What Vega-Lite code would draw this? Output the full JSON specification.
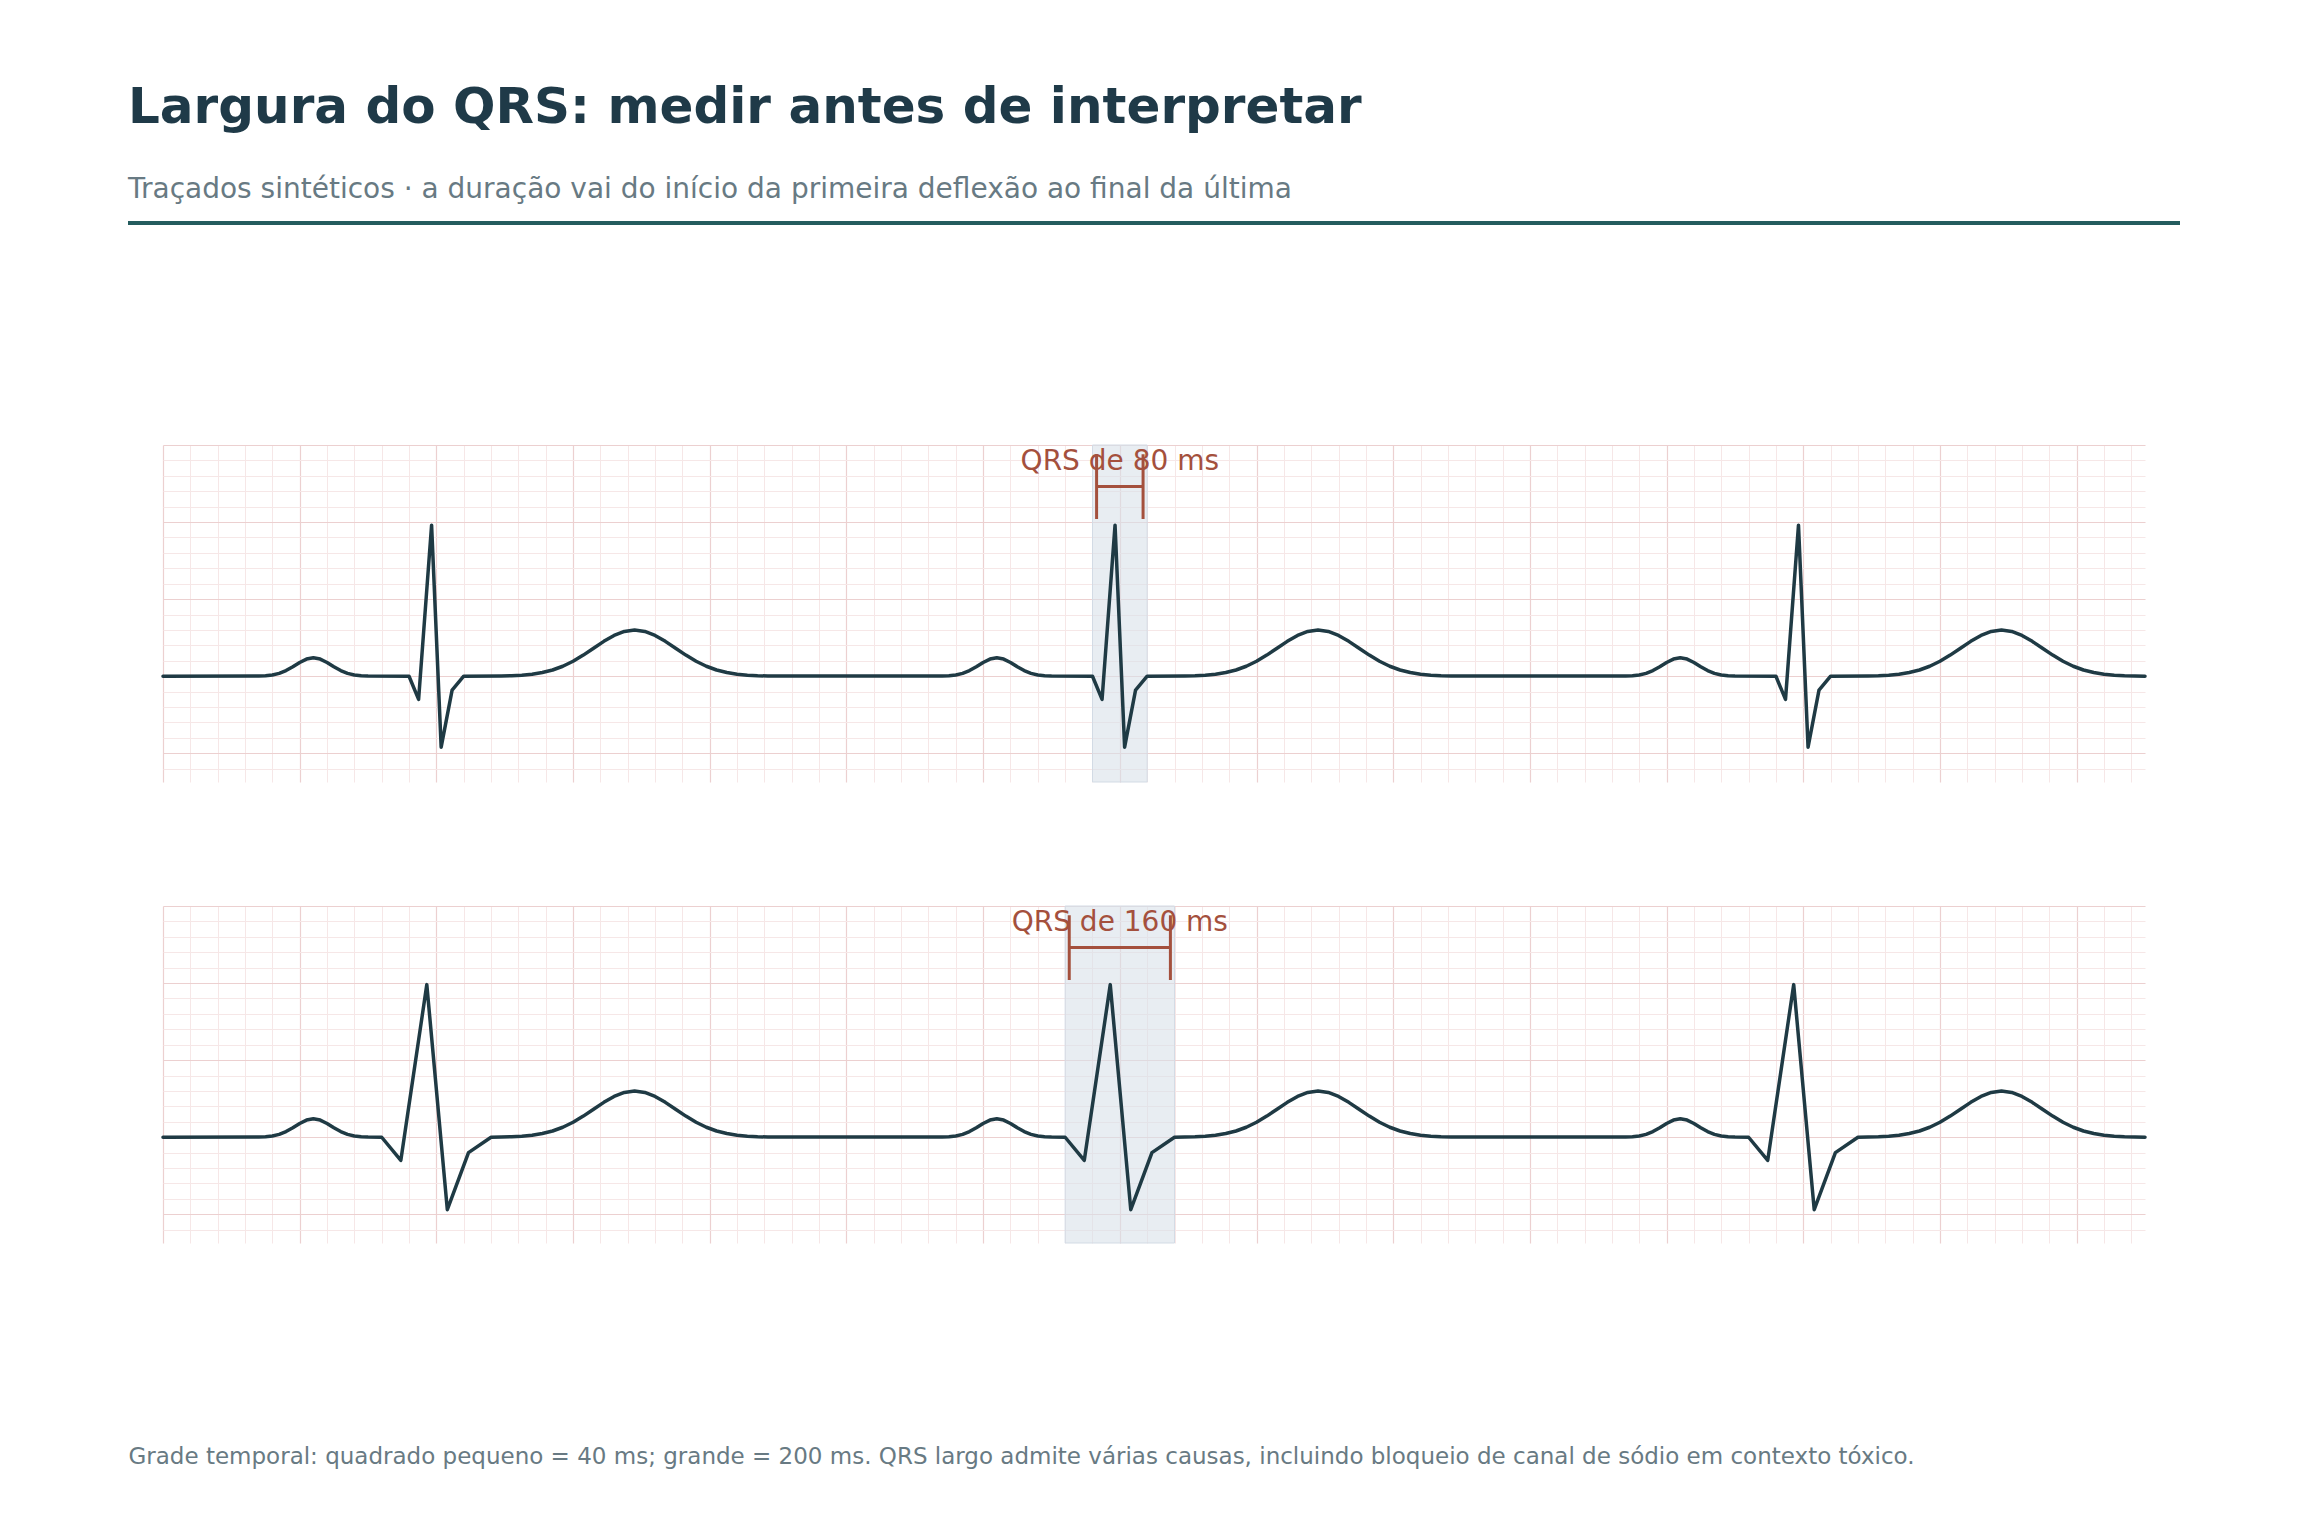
{
  "$schema": "https://vega.github.io/schema/vega-lite/v6.json",
  "background": "white",
  "padding": {"left": 126, "top": 83, "right": 20, "bottom": 20},
  "autosize": {"type": "pad"},
  "title": {
    "text": "Largura do QRS: medir antes de interpretar",
    "subtitle": "Traçados sintéticos · a duração vai do início da primeira deflexão ao final da última",
    "anchor": "start",
    "frame": "group",
    "font": "DejaVu Sans",
    "fontSize": 50,
    "fontWeight": "bold",
    "color": "#1f3a48",
    "subtitleFont": "DejaVu Sans",
    "subtitleFontSize": 28,
    "subtitleColor": "#687a83",
    "subtitlePadding": 43,
    "offset": 17
  },
  "bounds": "flush",
  "center": true,
  "spacing": 124,
  "datasets": {
    "narrow": [
      {"t":0,"v":0},{"t":140,"v":0.0011},{"t":150,"v":0.0032},{"t":160,"v":0.0084},{"t":170,"v":0.0189},{"t":180,"v":0.0367},{"t":190,"v":0.0617},{"t":200,"v":0.0893},{"t":210,"v":0.1114},{"t":220,"v":0.12},{"t":230,"v":0.1114},{"t":240,"v":0.0893},{"t":250,"v":0.0617},{"t":260,"v":0.0367},{"t":270,"v":0.0189},{"t":280,"v":0.0084},{"t":290,"v":0.0032},{"t":300,"v":0.0011},
      {"t":360,"v":0},{"t":374,"v":-0.15},{"t":393,"v":0.98},{"t":407,"v":-0.46},{"t":423,"v":-0.09},{"t":440,"v":0},
      {"t":495,"v":0.0015},{"t":510,"v":0.0033},{"t":525,"v":0.0068},{"t":540,"v":0.0132},{"t":555,"v":0.0239},{"t":570,"v":0.0406},{"t":585,"v":0.0649},{"t":600,"v":0.0974},{"t":615,"v":0.1373},{"t":630,"v":0.182},{"t":645,"v":0.2264},{"t":660,"v":0.2648},{"t":675,"v":0.2908},{"t":690,"v":0.3},{"t":705,"v":0.2908},{"t":720,"v":0.2648},{"t":735,"v":0.2264},{"t":750,"v":0.182},{"t":765,"v":0.1373},{"t":780,"v":0.0974},{"t":795,"v":0.0649},{"t":810,"v":0.0406},{"t":825,"v":0.0239},{"t":840,"v":0.0132},{"t":855,"v":0.0068},{"t":870,"v":0.0033},{"t":885,"v":0.0015},
      {"t":1140,"v":0.0011},{"t":1150,"v":0.0032},{"t":1160,"v":0.0084},{"t":1170,"v":0.0189},{"t":1180,"v":0.0367},{"t":1190,"v":0.0617},{"t":1200,"v":0.0893},{"t":1210,"v":0.1114},{"t":1220,"v":0.12},{"t":1230,"v":0.1114},{"t":1240,"v":0.0893},{"t":1250,"v":0.0617},{"t":1260,"v":0.0367},{"t":1270,"v":0.0189},{"t":1280,"v":0.0084},{"t":1290,"v":0.0032},{"t":1300,"v":0.0011},
      {"t":1360,"v":0},{"t":1374,"v":-0.15},{"t":1393,"v":0.98},{"t":1407,"v":-0.46},{"t":1423,"v":-0.09},{"t":1440,"v":0},
      {"t":1495,"v":0.0015},{"t":1510,"v":0.0033},{"t":1525,"v":0.0068},{"t":1540,"v":0.0132},{"t":1555,"v":0.0239},{"t":1570,"v":0.0406},{"t":1585,"v":0.0649},{"t":1600,"v":0.0974},{"t":1615,"v":0.1373},{"t":1630,"v":0.182},{"t":1645,"v":0.2264},{"t":1660,"v":0.2648},{"t":1675,"v":0.2908},{"t":1690,"v":0.3},{"t":1705,"v":0.2908},{"t":1720,"v":0.2648},{"t":1735,"v":0.2264},{"t":1750,"v":0.182},{"t":1765,"v":0.1373},{"t":1780,"v":0.0974},{"t":1795,"v":0.0649},{"t":1810,"v":0.0406},{"t":1825,"v":0.0239},{"t":1840,"v":0.0132},{"t":1855,"v":0.0068},{"t":1870,"v":0.0033},{"t":1885,"v":0.0015},
      {"t":2140,"v":0.0011},{"t":2150,"v":0.0032},{"t":2160,"v":0.0084},{"t":2170,"v":0.0189},{"t":2180,"v":0.0367},{"t":2190,"v":0.0617},{"t":2200,"v":0.0893},{"t":2210,"v":0.1114},{"t":2220,"v":0.12},{"t":2230,"v":0.1114},{"t":2240,"v":0.0893},{"t":2250,"v":0.0617},{"t":2260,"v":0.0367},{"t":2270,"v":0.0189},{"t":2280,"v":0.0084},{"t":2290,"v":0.0032},{"t":2300,"v":0.0011},
      {"t":2360,"v":0},{"t":2374,"v":-0.15},{"t":2393,"v":0.98},{"t":2407,"v":-0.46},{"t":2423,"v":-0.09},{"t":2440,"v":0},
      {"t":2495,"v":0.0015},{"t":2510,"v":0.0033},{"t":2525,"v":0.0068},{"t":2540,"v":0.0132},{"t":2555,"v":0.0239},{"t":2570,"v":0.0406},{"t":2585,"v":0.0649},{"t":2600,"v":0.0974},{"t":2615,"v":0.1373},{"t":2630,"v":0.182},{"t":2645,"v":0.2264},{"t":2660,"v":0.2648},{"t":2675,"v":0.2908},{"t":2690,"v":0.3},{"t":2705,"v":0.2908},{"t":2720,"v":0.2648},{"t":2735,"v":0.2264},{"t":2750,"v":0.182},{"t":2765,"v":0.1373},{"t":2780,"v":0.0974},{"t":2795,"v":0.0649},{"t":2810,"v":0.0406},{"t":2825,"v":0.0239},{"t":2840,"v":0.0132},{"t":2855,"v":0.0068},{"t":2870,"v":0.0033},{"t":2885,"v":0.0015},{"t":2900,"v":0.0007}
    ],
    "wide": [
      {"t":0,"v":0},{"t":140,"v":0.0011},{"t":150,"v":0.0032},{"t":160,"v":0.0084},{"t":170,"v":0.0189},{"t":180,"v":0.0367},{"t":190,"v":0.0617},{"t":200,"v":0.0893},{"t":210,"v":0.1114},{"t":220,"v":0.12},{"t":230,"v":0.1114},{"t":240,"v":0.0893},{"t":250,"v":0.0617},{"t":260,"v":0.0367},{"t":270,"v":0.0189},{"t":280,"v":0.0084},{"t":290,"v":0.0032},{"t":300,"v":0.0011},
      {"t":320,"v":0},{"t":348,"v":-0.15},{"t":386,"v":0.99},{"t":416,"v":-0.47},{"t":447,"v":-0.1},{"t":480,"v":0},
      {"t":495,"v":0.0015},{"t":510,"v":0.0033},{"t":525,"v":0.0068},{"t":540,"v":0.0132},{"t":555,"v":0.0239},{"t":570,"v":0.0406},{"t":585,"v":0.0649},{"t":600,"v":0.0974},{"t":615,"v":0.1373},{"t":630,"v":0.182},{"t":645,"v":0.2264},{"t":660,"v":0.2648},{"t":675,"v":0.2908},{"t":690,"v":0.3},{"t":705,"v":0.2908},{"t":720,"v":0.2648},{"t":735,"v":0.2264},{"t":750,"v":0.182},{"t":765,"v":0.1373},{"t":780,"v":0.0974},{"t":795,"v":0.0649},{"t":810,"v":0.0406},{"t":825,"v":0.0239},{"t":840,"v":0.0132},{"t":855,"v":0.0068},{"t":870,"v":0.0033},{"t":885,"v":0.0015},
      {"t":1140,"v":0.0011},{"t":1150,"v":0.0032},{"t":1160,"v":0.0084},{"t":1170,"v":0.0189},{"t":1180,"v":0.0367},{"t":1190,"v":0.0617},{"t":1200,"v":0.0893},{"t":1210,"v":0.1114},{"t":1220,"v":0.12},{"t":1230,"v":0.1114},{"t":1240,"v":0.0893},{"t":1250,"v":0.0617},{"t":1260,"v":0.0367},{"t":1270,"v":0.0189},{"t":1280,"v":0.0084},{"t":1290,"v":0.0032},{"t":1300,"v":0.0011},
      {"t":1320,"v":0},{"t":1348,"v":-0.15},{"t":1386,"v":0.99},{"t":1416,"v":-0.47},{"t":1447,"v":-0.1},{"t":1480,"v":0},
      {"t":1495,"v":0.0015},{"t":1510,"v":0.0033},{"t":1525,"v":0.0068},{"t":1540,"v":0.0132},{"t":1555,"v":0.0239},{"t":1570,"v":0.0406},{"t":1585,"v":0.0649},{"t":1600,"v":0.0974},{"t":1615,"v":0.1373},{"t":1630,"v":0.182},{"t":1645,"v":0.2264},{"t":1660,"v":0.2648},{"t":1675,"v":0.2908},{"t":1690,"v":0.3},{"t":1705,"v":0.2908},{"t":1720,"v":0.2648},{"t":1735,"v":0.2264},{"t":1750,"v":0.182},{"t":1765,"v":0.1373},{"t":1780,"v":0.0974},{"t":1795,"v":0.0649},{"t":1810,"v":0.0406},{"t":1825,"v":0.0239},{"t":1840,"v":0.0132},{"t":1855,"v":0.0068},{"t":1870,"v":0.0033},{"t":1885,"v":0.0015},
      {"t":2140,"v":0.0011},{"t":2150,"v":0.0032},{"t":2160,"v":0.0084},{"t":2170,"v":0.0189},{"t":2180,"v":0.0367},{"t":2190,"v":0.0617},{"t":2200,"v":0.0893},{"t":2210,"v":0.1114},{"t":2220,"v":0.12},{"t":2230,"v":0.1114},{"t":2240,"v":0.0893},{"t":2250,"v":0.0617},{"t":2260,"v":0.0367},{"t":2270,"v":0.0189},{"t":2280,"v":0.0084},{"t":2290,"v":0.0032},{"t":2300,"v":0.0011},
      {"t":2320,"v":0},{"t":2348,"v":-0.15},{"t":2386,"v":0.99},{"t":2416,"v":-0.47},{"t":2447,"v":-0.1},{"t":2480,"v":0},
      {"t":2495,"v":0.0015},{"t":2510,"v":0.0033},{"t":2525,"v":0.0068},{"t":2540,"v":0.0132},{"t":2555,"v":0.0239},{"t":2570,"v":0.0406},{"t":2585,"v":0.0649},{"t":2600,"v":0.0974},{"t":2615,"v":0.1373},{"t":2630,"v":0.182},{"t":2645,"v":0.2264},{"t":2660,"v":0.2648},{"t":2675,"v":0.2908},{"t":2690,"v":0.3},{"t":2705,"v":0.2908},{"t":2720,"v":0.2648},{"t":2735,"v":0.2264},{"t":2750,"v":0.182},{"t":2765,"v":0.1373},{"t":2780,"v":0.0974},{"t":2795,"v":0.0649},{"t":2810,"v":0.0406},{"t":2825,"v":0.0239},{"t":2840,"v":0.0132},{"t":2855,"v":0.0068},{"t":2870,"v":0.0033},{"t":2885,"v":0.0015},{"t":2900,"v":0.0007}
    ],
    "qrsNarrow": [{"start":1360,"end":1440,"lo":1366,"hi":1434,"mid":1400,"label":"QRS de 80 ms"}],
    "qrsWide": [{"start":1320,"end":1480,"lo":1326,"hi":1474,"mid":1400,"label":"QRS de 160 ms"}]
  },
  "vconcat": [
    {
      "width": 2052,
      "height": 98,
      "data": {"values": [{"from": 0, "to": 1, "level": 1}]},
      "mark": {"type": "rule", "color": "#245c5e", "strokeWidth": 4},
      "encoding": {
        "x": {"field": "from", "type": "quantitative", "scale": {"domain": [0, 1], "nice": false, "zero": false}, "axis": null},
        "x2": {"field": "to"},
        "y": {"field": "level", "type": "quantitative", "scale": {"domain": [0, 1], "nice": false}, "axis": null}
      }
    },
    {
      "width": 1982,
      "height": 337,
      "resolve": {"axis": {"x": "independent", "y": "independent"}},
      "layer": [
        {
          "data": {"name": "qrsNarrow"},
          "mark": {"type": "rect", "fill": "#d9e1ea", "fillOpacity": 0.6, "stroke": "#d3dbe5", "strokeWidth": 1},
          "encoding": {
            "x": {"field": "start", "type": "quantitative", "scale": {"domain": [0, 2900], "nice": false, "zero": false},
              "axis": {"orient": "top", "title": null, "labels": false, "ticks": false, "domain": false, "grid": true, "gridColor": "#ecd0d0", "gridWidth": 1.2,
                "values": [0,200,400,600,800,1000,1200,1400,1600,1800,2000,2200,2400,2600,2800]}},
            "x2": {"field": "end"}
          }
        },
        {
          "data": {"name": "narrow"},
          "mark": {"type": "line", "color": "#1f3a44", "strokeWidth": 3.5, "strokeJoin": "round", "strokeCap": "round"},
          "encoding": {
            "x": {"field": "t", "type": "quantitative", "scale": {"domain": [0, 2900], "nice": false, "zero": false},
              "axis": {"orient": "bottom", "title": null, "labels": false, "ticks": false, "domain": false, "grid": true, "gridColor": "#f6e7e7", "gridWidth": 1,
                "values": [40,80,120,160,240,280,320,360,440,480,520,560,640,680,720,760,840,880,920,960,1040,1080,1120,1160,1240,1280,1320,1360,1440,1480,1520,1560,1640,1680,1720,1760,1840,1880,1920,1960,2040,2080,2120,2160,2240,2280,2320,2360,2440,2480,2520,2560,2640,2680,2720,2760,2840,2880]}},
            "y": {"field": "v", "type": "quantitative", "scale": {"domain": [-0.686, 1.5], "nice": false, "zero": false},
              "axis": {"orient": "left", "title": null, "labels": false, "ticks": false, "domain": false, "grid": true, "gridColor": "#f6e7e7", "gridWidth": 1,
                "values": [-0.6,-0.4,-0.3,-0.2,-0.1,0.1,0.2,0.3,0.4,0.6,0.7,0.8,0.9,1.1,1.2,1.3,1.4]}}
          }
        },
        {
          "data": {"name": "qrsNarrow"},
          "mark": {"type": "rule", "color": "#a4503d", "strokeWidth": 3},
          "encoding": {
            "x": {"field": "lo", "type": "quantitative", "scale": {"domain": [0, 2900], "nice": false, "zero": false}, "axis": null},
            "y": {"datum": 1.02, "type": "quantitative", "scale": {"domain": [-0.686, 1.5], "nice": false, "zero": false},
              "axis": {"orient": "right", "title": null, "labels": false, "ticks": false, "domain": false, "grid": true, "gridColor": "#ecd0d0", "gridWidth": 1.2,
                "values": [-0.5, 0, 0.5, 1, 1.5]}},
            "y2": {"datum": 1.44}
          }
        },
        {
          "data": {"name": "qrsNarrow"},
          "mark": {"type": "rule", "color": "#a4503d", "strokeWidth": 3},
          "encoding": {
            "x": {"field": "hi", "type": "quantitative", "axis": null},
            "y": {"datum": 1.02, "type": "quantitative", "axis": null},
            "y2": {"datum": 1.44}
          }
        },
        {
          "data": {"name": "qrsNarrow"},
          "mark": {"type": "rule", "color": "#a4503d", "strokeWidth": 3},
          "encoding": {
            "x": {"field": "lo", "type": "quantitative", "axis": null},
            "x2": {"field": "hi"},
            "y": {"datum": 1.23, "type": "quantitative", "axis": null}
          }
        },
        {
          "data": {"name": "qrsNarrow"},
          "mark": {"type": "text", "font": "DejaVu Sans", "fontSize": 28, "color": "#a4503d", "align": "center", "baseline": "alphabetic"},
          "encoding": {
            "x": {"field": "mid", "type": "quantitative", "axis": null},
            "y": {"datum": 1.34, "type": "quantitative", "axis": null},
            "text": {"field": "label"}
          }
        }
      ]
    },
    {
      "width": 1982,
      "height": 337,
      "resolve": {"axis": {"x": "independent", "y": "independent"}},
      "layer": [
        {
          "data": {"name": "qrsWide"},
          "mark": {"type": "rect", "fill": "#d9e1ea", "fillOpacity": 0.6, "stroke": "#d3dbe5", "strokeWidth": 1},
          "encoding": {
            "x": {"field": "start", "type": "quantitative", "scale": {"domain": [0, 2900], "nice": false, "zero": false},
              "axis": {"orient": "top", "title": null, "labels": false, "ticks": false, "domain": false, "grid": true, "gridColor": "#ecd0d0", "gridWidth": 1.2,
                "values": [0,200,400,600,800,1000,1200,1400,1600,1800,2000,2200,2400,2600,2800]}},
            "x2": {"field": "end"}
          }
        },
        {
          "data": {"name": "wide"},
          "mark": {"type": "line", "color": "#1f3a44", "strokeWidth": 3.5, "strokeJoin": "round", "strokeCap": "round"},
          "encoding": {
            "x": {"field": "t", "type": "quantitative", "scale": {"domain": [0, 2900], "nice": false, "zero": false},
              "axis": {"orient": "bottom", "labels": false, "ticks": false, "domain": false, "grid": true, "gridColor": "#f6e7e7", "gridWidth": 1,
                "values": [40,80,120,160,240,280,320,360,440,480,520,560,640,680,720,760,840,880,920,960,1040,1080,1120,1160,1240,1280,1320,1360,1440,1480,1520,1560,1640,1680,1720,1760,1840,1880,1920,1960,2040,2080,2120,2160,2240,2280,2320,2360,2440,2480,2520,2560,2640,2680,2720,2760,2840,2880],
                "title": "Grade temporal: quadrado pequeno = 40 ms; grande = 200 ms. QRS largo admite várias causas, incluindo bloqueio de canal de sódio em contexto tóxico.",
                "titleFont": "DejaVu Sans", "titleFontSize": 23, "titleFontWeight": "normal", "titleColor": "#687a83",
                "titleAnchor": "start", "titleAlign": "left", "titleBaseline": "alphabetic", "titleAngle": 0,
                "titleX": -35, "titleY": 220}},
            "y": {"field": "v", "type": "quantitative", "scale": {"domain": [-0.686, 1.5], "nice": false, "zero": false},
              "axis": {"orient": "left", "title": null, "labels": false, "ticks": false, "domain": false, "grid": true, "gridColor": "#f6e7e7", "gridWidth": 1,
                "values": [-0.6,-0.4,-0.3,-0.2,-0.1,0.1,0.2,0.3,0.4,0.6,0.7,0.8,0.9,1.1,1.2,1.3,1.4]}}
          }
        },
        {
          "data": {"name": "qrsWide"},
          "mark": {"type": "rule", "color": "#a4503d", "strokeWidth": 3},
          "encoding": {
            "x": {"field": "lo", "type": "quantitative", "scale": {"domain": [0, 2900], "nice": false, "zero": false}, "axis": null},
            "y": {"datum": 1.02, "type": "quantitative", "scale": {"domain": [-0.686, 1.5], "nice": false, "zero": false},
              "axis": {"orient": "right", "title": null, "labels": false, "ticks": false, "domain": false, "grid": true, "gridColor": "#ecd0d0", "gridWidth": 1.2,
                "values": [-0.5, 0, 0.5, 1, 1.5]}},
            "y2": {"datum": 1.44}
          }
        },
        {
          "data": {"name": "qrsWide"},
          "mark": {"type": "rule", "color": "#a4503d", "strokeWidth": 3},
          "encoding": {
            "x": {"field": "hi", "type": "quantitative", "axis": null},
            "y": {"datum": 1.02, "type": "quantitative", "axis": null},
            "y2": {"datum": 1.44}
          }
        },
        {
          "data": {"name": "qrsWide"},
          "mark": {"type": "rule", "color": "#a4503d", "strokeWidth": 3},
          "encoding": {
            "x": {"field": "lo", "type": "quantitative", "axis": null},
            "x2": {"field": "hi"},
            "y": {"datum": 1.23, "type": "quantitative", "axis": null}
          }
        },
        {
          "data": {"name": "qrsWide"},
          "mark": {"type": "text", "font": "DejaVu Sans", "fontSize": 28, "color": "#a4503d", "align": "center", "baseline": "alphabetic"},
          "encoding": {
            "x": {"field": "mid", "type": "quantitative", "axis": null},
            "y": {"datum": 1.34, "type": "quantitative", "axis": null},
            "text": {"field": "label"}
          }
        }
      ]
    }
  ],
  "config": {
    "view": {"stroke": null},
    "font": "DejaVu Sans"
  }
}
